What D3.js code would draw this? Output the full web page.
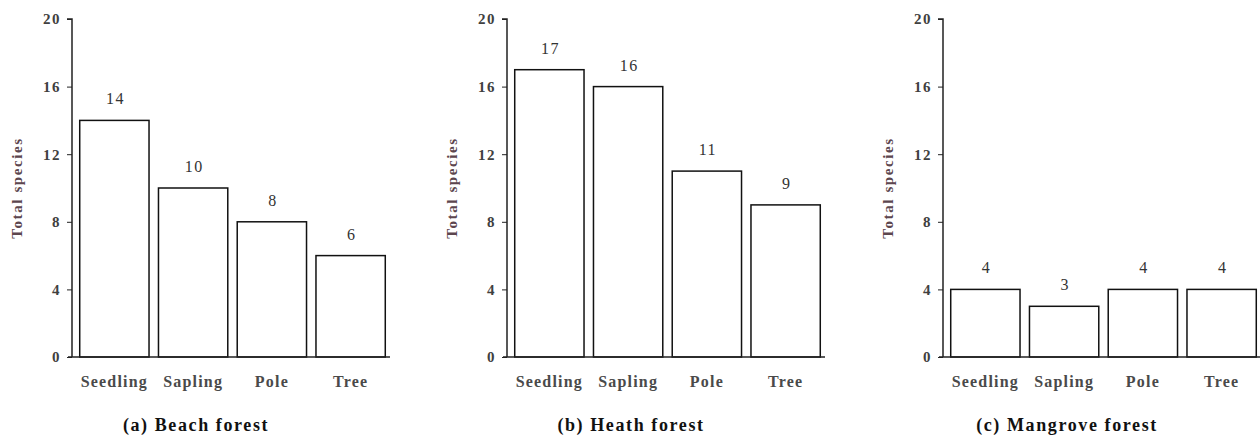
<!DOCTYPE html>
<html>
<head>
<meta charset="UTF-8">
<title>Total species by growth stage</title>
<style>
  body { margin: 0; background: #fff; }
  svg text { font-family: 'Liberation Serif', 'Times New Roman', serif; }
</style>
</head>
<body>
<div id="container"></div>
<script src="https://d3js.org/d3.v7.min.js"></script>
<script>
// data
var stages = ["Seedling", "Sapling", "Pole", "Tree"];
var beachValues = [14, 10, 8, 6];
var heathValues = [17, 16, 11, 9];
var mangroveValues = [4, 3, 4, 4];
var panelTitles = ["(a) Beach forest", "(b) Heath forest", "(c) Mangrove forest"];
var yTicks = [0, 4, 8, 12, 16, 20];
var yLabel = "Total species";

var W = 1260, H = 438;
var svg = d3.select("#container").append("svg")
  .attr("width", W).attr("height", H);

// where each panel's y axis sits
var axisX = [72, 507, 943];
var yTop = 19, yBase = 357;

var y = d3.scaleLinear().domain([0, 20]).range([yBase, yTop]);

function drawPanel(i, values) {
  var x0 = axisX[i];
  var x = d3.scaleBand().domain(stages)
    .range([x0 + 3, x0 + 318])
    .paddingInner(0.12).paddingOuter(0.06);

  var g = svg.append("g");

  // y axis
  var yAxis = g.append("g")
    .attr("transform", "translate(" + x0 + ",0)")
    .call(d3.axisLeft(y).tickValues(yTicks).tickSize(5).tickPadding(6))
    .attr("font-family", "'Liberation Serif', serif");
  yAxis.select(".domain").attr("stroke", "#222").attr("stroke-width", 1.5)
    .attr("d", "M-5," + yTop + "H0V" + yBase);
  yAxis.selectAll(".tick line").attr("stroke", "#222").attr("stroke-width", 1);
  yAxis.selectAll("text")
    .attr("fill", "#404040").style("font-size", "15px").style("font-weight", "bold")
    .style("letter-spacing", "1.5px");

  // bars
  g.selectAll("rect").data(values).enter().append("rect")
    .attr("x", function(d, j) { return x(stages[j]); })
    .attr("y", function(d) { return y(d); })
    .attr("width", x.bandwidth())
    .attr("height", function(d) { return yBase - y(d); })
    .attr("fill", "#fff").attr("stroke", "#111").attr("stroke-width", 1.5);

  // value labels
  g.selectAll(".val").data(values).enter().append("text")
    .attr("class", "val")
    .attr("x", function(d, j) { return x(stages[j]) + x.bandwidth() / 2 + 1; })
    .attr("y", function(d) { return y(d) - 16; })
    .attr("text-anchor", "middle")
    .style("font-size", "16px").style("letter-spacing", "1.5px").attr("fill", "#333")
    .text(function(d) { return d; });

  // x axis line
  g.append("line")
    .attr("x1", x0 - 4).attr("x2", Math.min(x0 + 318, W))
    .attr("y1", yBase).attr("y2", yBase)
    .attr("stroke", "#222").attr("stroke-width", 1.5);

  // category labels
  g.selectAll(".cat").data(stages).enter().append("text")
    .attr("class", "cat")
    .attr("x", function(d) { return x(d) + x.bandwidth() / 2; })
    .attr("y", 387)
    .attr("text-anchor", "middle")
    .style("font-size", "16px").style("font-weight", "bold").style("letter-spacing", "1.2px")
    .attr("fill", "#4a4a4a")
    .text(function(d) { return d; });

  // y label
  g.append("text")
    .attr("transform", "translate(" + (x0 - 50) + ",188) rotate(-90)")
    .attr("text-anchor", "middle")
    .style("font-size", "15px").style("font-weight", "bold").style("letter-spacing", "1.6px")
    .attr("fill", "#5c464e")
    .text(yLabel);

  // panel title
  g.append("text")
    .attr("x", x0 + 124).attr("y", 431)
    .attr("text-anchor", "middle")
    .style("font-size", "18px").style("font-weight", "bold").style("letter-spacing", "1.6px")
    .attr("fill", "#111")
    .text(panelTitles[i]);
}

drawPanel(0, beachValues);
drawPanel(1, heathValues);
drawPanel(2, mangroveValues);
</script>
</body>
</html>
